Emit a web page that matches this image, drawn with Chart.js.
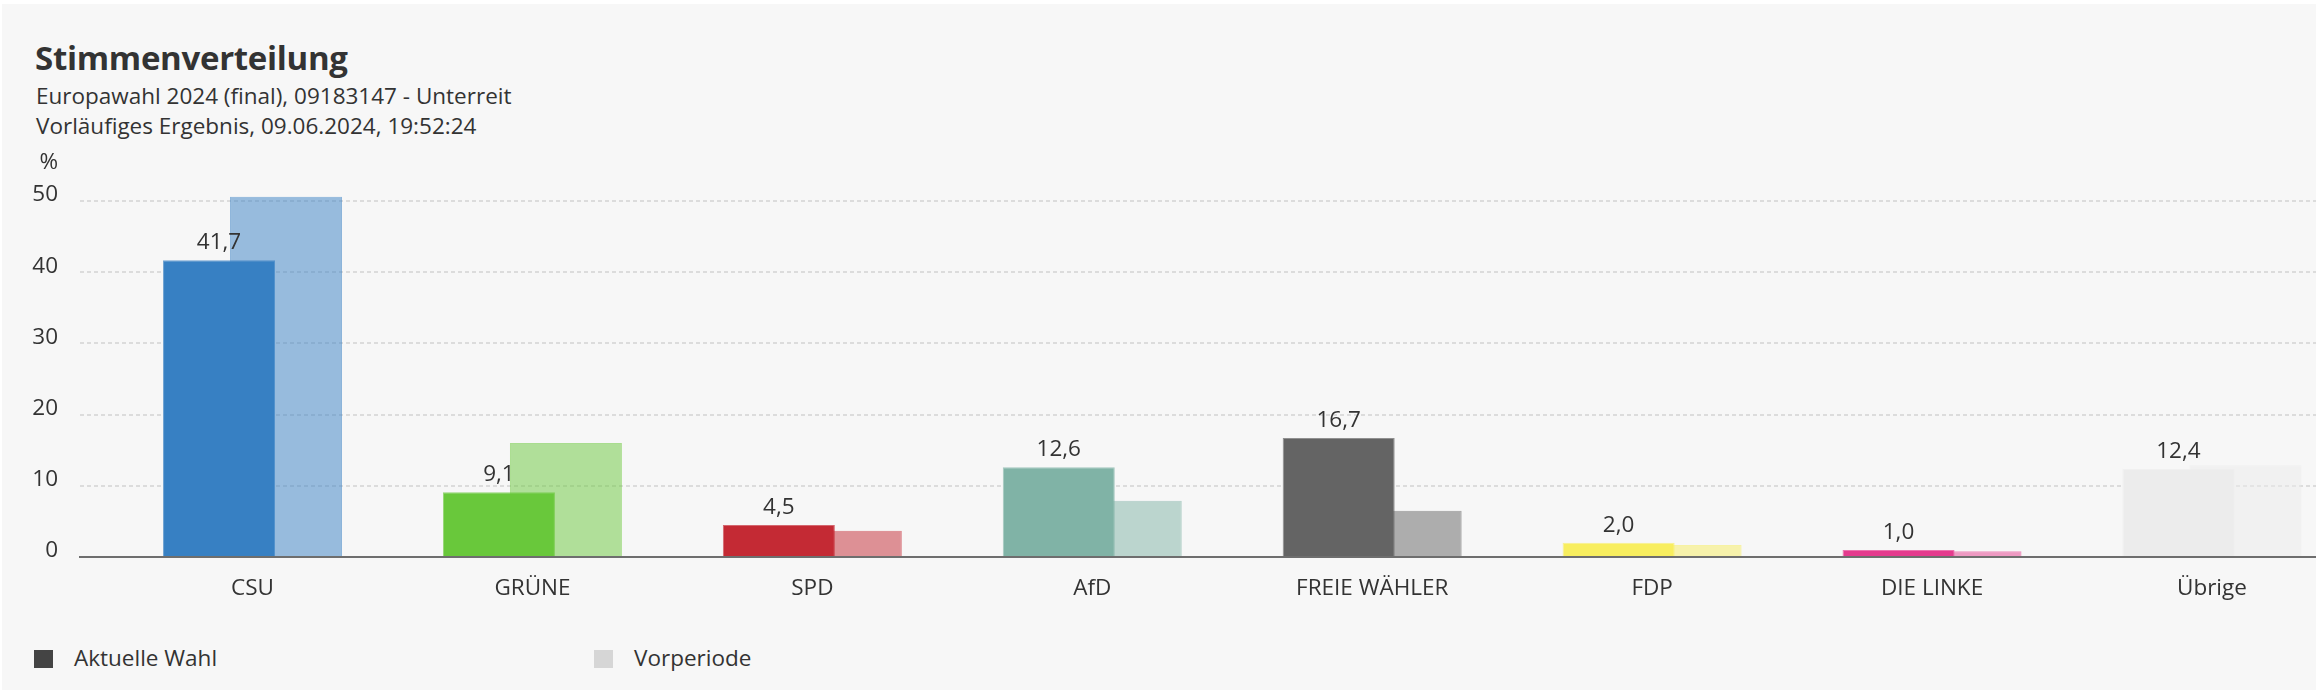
<!DOCTYPE html>
<html>
<head>
<meta charset="utf-8">
<script src="https://cdn.jsdelivr.net/npm/chart.js@4.4.1/dist/chart.umd.min.js"></script>
<style>
	html, body { margin: 0; padding: 0; background: #fff; }
	body { width: 2316px; height: 690px; overflow: hidden; position: relative; font-family: "Open Sans", sans-serif; color: #333; }
	#box { position: absolute; left: 2px; top: 4px; right: 0; bottom: 0; background: #f7f7f7; }
	#title { position: absolute; left: 35px; top: 38px; font-size: 33px; font-weight: bold; line-height: 40px; letter-spacing: -0.3px; }
	.sub { position: absolute; left: 36px; font-size: 22.5px; line-height: 30px; }
	#canvasBox { position: absolute; left: 0; top: 140px; }
	.legendItem { position: absolute; top: 644px; font-size: 22.5px; line-height: 28px; }
	.legendItem span { display: inline-block; width: 19px; height: 18px; margin-right: 21px; vertical-align: -2px; }
</style>
</head>
<body>
<div id="box"></div>
<div id="title">Stimmenverteilung</div>
<div class="sub" style="top:81px">Europawahl 2024 (final), 09183147 - Unterreit</div>
<div class="sub" style="top:111px">Vorläufiges Ergebnis, 09.06.2024, 19:52:24</div>
<div id="canvasBox"><canvas id="canvasStimmen" width="2316" height="480"></canvas></div>
<div class="legendItem" style="left:34px"><span style="background:#444"></span>Aktuelle Wahl</div>
<div class="legendItem" style="left:594px"><span style="background:#d6d6d6"></span>Vorperiode</div>

<script>
var partyList = ['CSU', 'GRÜNE', 'SPD', 'AfD', 'FREIE WÄHLER', 'FDP', 'DIE LINKE', 'Übrige'];
var currentValueList = [41.7, 9.1, 4.5, 12.6, 16.7, 2.0, 1.0, 12.4];
var previousValueList = [50.6, 16.0, 3.7, 7.9, 6.5, 1.7, 0.8, 12.9];
var partyColorList = ['55,128,195', '105,200,59', '196,42,52', '128,179,166', '100,100,100', '248,238,95', '229,59,142', '236,236,236'];
var yTickList = [0, 10, 20, 30, 40, 50];

/***********************************************************************************************
 * Stimmenverteilung - Balken
 ***********************************************************************************************/
function toPoints(valueList) {
	return valueList.map(function(v, i) { return { x: i, y: v }; });
}
function rgba(alpha) {
	return partyColorList.map(function(c) { return 'rgba(' + c + ',' + alpha + ')'; });
}

var labelPlugin = {
	id: 'valueLabels',
	afterDatasetsDraw: function(chart) {
		var ctx = chart.ctx;
		var yScale = chart.scales.y;
		ctx.save();
		ctx.font = '22.5px "Open Sans"';
		ctx.fillStyle = '#333';
		ctx.textAlign = 'center';
		ctx.textBaseline = 'alphabetic';
		chart.getDatasetMeta(0).data.forEach(function(bar, i) {
			ctx.fillText(currentValueList[i].toFixed(1).replace('.', ','), bar.x, bar.y - 11);
		});
		ctx.textAlign = 'right';
		ctx.textBaseline = 'middle';
		ctx.fillText('%', yScale.right - 22, yScale.getPixelForValue(50) - 38);
		ctx.restore();
	}
};

var config = new Chart(document.getElementById('canvasStimmen'), {
	type: 'bar',
	data: {
		datasets: [{
			label: 'Aktuelle Wahl',
			data: toPoints(currentValueList),
			backgroundColor: rgba(1),
			borderColor: rgba(0.7),
			borderWidth: 1,
			order: 0
		}, {
			label: 'Vorperiode',
			data: toPoints(previousValueList),
			backgroundColor: rgba(0.5),
			borderColor: rgba(0.55),
			borderWidth: 1,
			order: 1
		}]
	},
	options: {
		responsive: false,
		animation: false,
		categoryPercentage: 0.4787,
		barPercentage: 1.6716,
		layout: { padding: { top: 46.8, right: 0, left: 0, bottom: 0 } },
		plugins: {
			legend: { display: false },
			tooltip: { enabled: false }
		},
		scales: {
			x: {
				type: 'linear',
				bounds: 'data',
				offset: false,
				min: -0.6163,
				max: 7.3717,
				afterFit: function(scale) { scale.height = 63; },
				afterBuildTicks: function(scale) {
					scale.ticks = partyList.map(function(p, i) { return { value: i }; });
				},
				grid: { display: false, drawTicks: false, offset: false },
				border: { display: true, color: '#6e6e6e', width: 2, z: 1 },
				ticks: {
					autoSkip: false,
					maxRotation: 0,
					padding: 18,
					color: '#333',
					font: { family: 'Open Sans', size: 22.5 },
					callback: function(value) { return partyList[value] || ''; }
				}
			},
			y: {
				min: 0,
				max: 52,
				afterFit: function(scale) { scale.width = 80; },
				afterBuildTicks: function(scale) {
					scale.ticks = yTickList.map(function(v) { return { value: v }; });
				},
				grid: { color: '#dcdcdc', lineWidth: 2, drawTicks: false },
				border: { display: false, dash: [4, 3] },
				ticks: {
					padding: 22,
					labelOffset: -6,
					color: '#333',
					font: { family: 'Open Sans', size: 22.5 }
				}
			}
		}
	},
	plugins: [labelPlugin]
});
</script>
</body>
</html>
